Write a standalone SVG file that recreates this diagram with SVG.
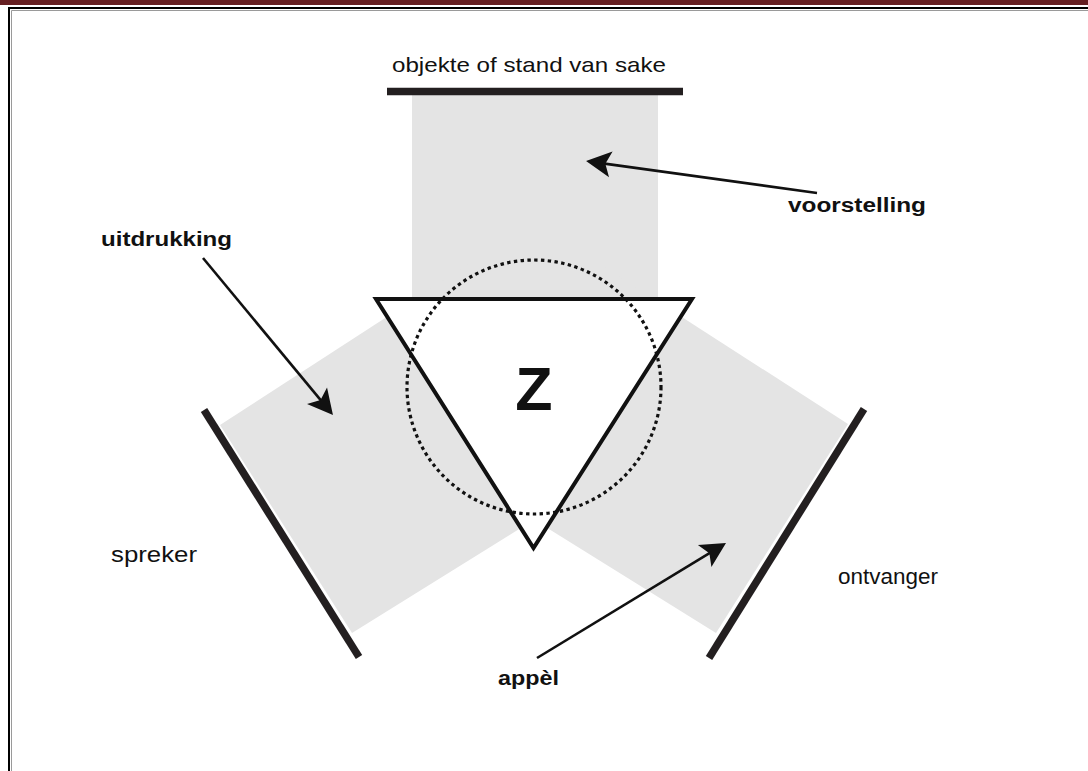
<svg xmlns="http://www.w3.org/2000/svg" width="1088" height="771" viewBox="0 0 1088 771">
  <style>
    .lobe { fill: #e4e4e4; }
    .bar { stroke: #231f20; stroke-width: 7.5; fill: none; }
    .lbl { font-family: "Liberation Sans", Arial, sans-serif; fill: #111; }
    .bold { font-weight: bold; }
    .conn { stroke: #111; stroke-width: 2.6; fill: none; }
  </style>
  <defs>
    <marker id="ah" markerUnits="userSpaceOnUse" markerWidth="60" markerHeight="60" refX="0" refY="0" orient="auto" overflow="visible" viewBox="-30 -30 60 60">
      <path d="M15,0 L-10,-13 L-4.5,0 L-10,13 Z" fill="#111"/>
    </marker>
  </defs>
  <rect x="0" y="0" width="1088" height="771" fill="#ffffff"/>
  <!-- frame -->
  <g id="frame">
    <rect x="0" y="0" width="1088" height="5" fill="#661f22"/>
    <path d="M9,771 V8 H1088" fill="none" stroke="#000" stroke-width="2"/>
    <path d="M11.5,771 V10.5 H1088" fill="none" stroke="#9a9a9a" stroke-width="1"/>
  </g>
  <!-- lobes -->
  <g id="lobe-top">
    <rect class="lobe" x="412" y="95" width="246" height="290"/>
  </g>
  <g id="lobe-left">
    <polygon class="lobe" points="220,425 352,633 540,516 540,385 470,263"/>
  </g>
  <g id="lobe-right">
    <polygon class="lobe" points="848,424 716,633 528,516 528,385 598,263"/>
  </g>
  <!-- bars -->
  <g id="objekte">
    <line class="bar" x1="387" y1="91.5" x2="683" y2="91.5"/>
    <text class="lbl" x="392" y="72" font-size="21" textLength="274" lengthAdjust="spacingAndGlyphs">objekte of stand van sake</text>
  </g>
  <g id="spreker">
    <line class="bar" x1="204" y1="410" x2="359" y2="657"/>
    <text class="lbl" x="111" y="562" font-size="22" textLength="86" lengthAdjust="spacingAndGlyphs">spreker</text>
  </g>
  <g id="ontvanger">
    <line class="bar" x1="864" y1="409" x2="709" y2="658"/>
    <text class="lbl" x="838" y="584" font-size="22" textLength="100" lengthAdjust="spacingAndGlyphs">ontvanger</text>
  </g>
  <!-- sign -->
  <g id="teken">
    <polygon points="376,299 692,299 533.5,548" fill="#ffffff" stroke="#111" stroke-width="4" stroke-linejoin="miter"/>
    <circle cx="534" cy="387" r="127" fill="none" stroke="#111" stroke-width="3.2" stroke-dasharray="3.4 3.4"/>
    <text class="lbl bold" x="534" y="410" font-size="61" text-anchor="middle">Z</text>
  </g>
  <!-- labels -->
  <g id="voorstelling">
    <text class="lbl bold" x="788" y="212" font-size="20" textLength="138" lengthAdjust="spacingAndGlyphs">voorstelling</text>
  </g>
  <g id="uitdrukking">
    <text class="lbl bold" x="101" y="246" font-size="20" textLength="131" lengthAdjust="spacingAndGlyphs">uitdrukking</text>
  </g>
  <g id="appel">
    <text class="lbl bold" x="498" y="685" font-size="20" textLength="61" lengthAdjust="spacingAndGlyphs">appèl</text>
  </g>
  <!-- connectors -->
  <g id="connectors">
    <line class="conn" x1="817" y1="193" x2="600.9" y2="163.1" marker-end="url(#ah)"/>
    <line class="conn" x1="203" y1="258" x2="323.4" y2="403.4" marker-end="url(#ah)"/>
    <line class="conn" x1="537" y1="658" x2="713.2" y2="550.8" marker-end="url(#ah)"/>
  </g>
</svg>
